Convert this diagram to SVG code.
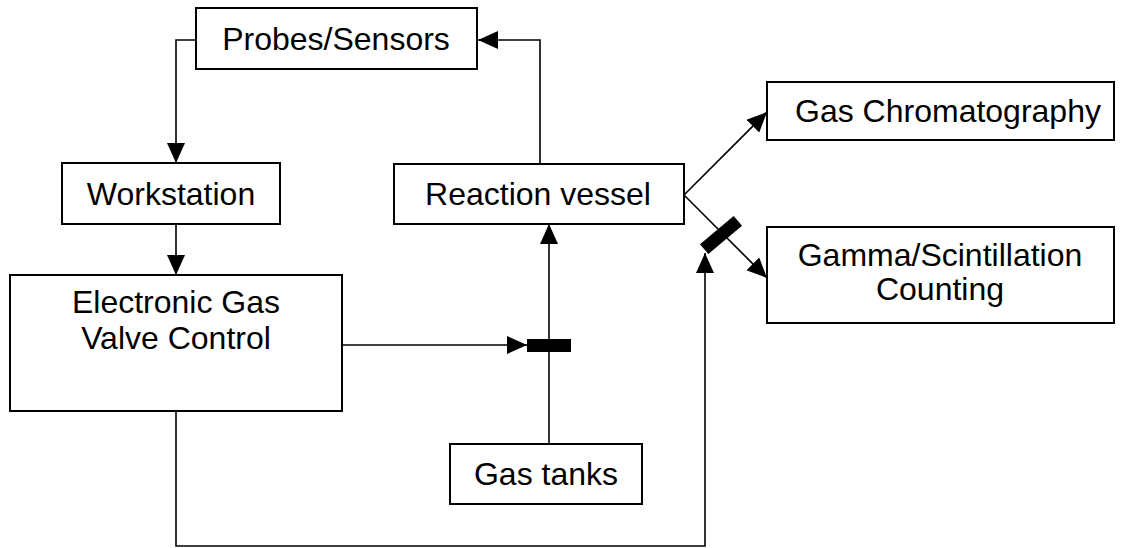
<svg xmlns="http://www.w3.org/2000/svg" width="1124" height="548" viewBox="0 0 1124 548">
<style>
.box{fill:#fff;stroke:#000;stroke-width:2}
.t{font-family:"Liberation Sans",Arial,sans-serif;font-size:32px;fill:#000;text-anchor:middle}
.c{fill:none;stroke:#000;stroke-width:1.6}
</style>
<defs>
<marker id="ah" viewBox="0 0 20 18" refX="20" refY="9" markerWidth="20" markerHeight="18" markerUnits="userSpaceOnUse" orient="auto">
<path d="M0,0 L20,9 L0,18 Z" fill="#000"/>
</marker>
</defs>
<g id="connectors">
<path class="c" d="M196,40 H176 V163" marker-end="url(#ah)"/>
<path class="c" d="M540,164 V40 H478" marker-end="url(#ah)"/>
<path class="c" d="M176,224 V275" marker-end="url(#ah)"/>
<path class="c" d="M342,345 H527" marker-end="url(#ah)"/>
<path class="c" d="M549,444 V224" marker-end="url(#ah)"/>
<path class="c" d="M684,195 L767,112" marker-end="url(#ah)"/>
<path class="c" d="M684,195 L767,278" marker-end="url(#ah)"/>
<path class="c" d="M176,411 V546 H705 V253" marker-end="url(#ah)"/>
<rect x="527" y="339" width="44" height="13" fill="#000"/>
<rect x="699" y="228.5" width="44" height="13" fill="#000" transform="rotate(-40 721 235)"/>
</g>
<g id="probes">
<rect class="box" x="196" y="8" width="281" height="61"/>
<text class="t" x="336" y="50">Probes/Sensors</text>
</g>
<g id="workstation">
<rect class="box" x="62" y="163" width="218" height="61"/>
<text class="t" x="171" y="205">Workstation</text>
</g>
<g id="egvc">
<rect class="box" x="10" y="275" width="332" height="136"/>
<text class="t" x="176" y="313">Electronic Gas</text>
<text class="t" x="176" y="349">Valve Control</text>
</g>
<g id="reaction">
<rect class="box" x="394" y="164" width="290" height="60"/>
<text class="t" x="538" y="205">Reaction vessel</text>
</g>
<g id="gastanks">
<rect class="box" x="450" y="444" width="192" height="60"/>
<text class="t" x="546" y="485">Gas tanks</text>
</g>
<g id="gc">
<rect class="box" x="767" y="82" width="347" height="58"/>
<text class="t" x="948" y="122">Gas Chromatography</text>
</g>
<g id="gamma">
<rect class="box" x="767" y="227" width="347" height="96"/>
<text class="t" x="940" y="266">Gamma/Scintillation</text>
<text class="t" x="940" y="300">Counting</text>
</g>
</svg>
